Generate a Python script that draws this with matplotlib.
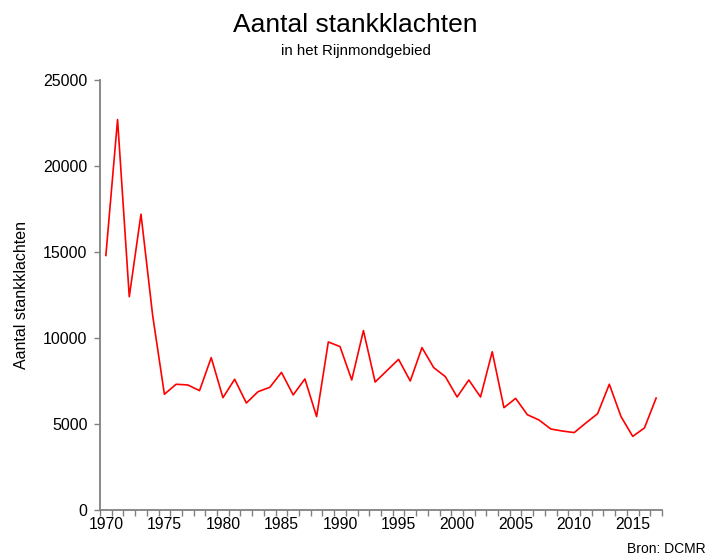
import matplotlib
matplotlib.use("Agg")
import matplotlib.pyplot as plt
import numpy as np

years = list(range(1970, 2018))
klachten = [14800, 22700, 12400, 17200, 11300, 6730, 7310, 7270, 6940, 8860,
            6530, 7600, 6220, 6880, 7130, 8000, 6690, 7620, 5430, 9770,
            9500, 7560, 10430, 7440, 8100, 8760, 7500, 9440, 8280, 7750,
            6570, 7560, 6570, 9200, 5950, 6490, 5540, 5230, 4710, 4590,
            4500, 5060, 5600, 7310, 5430, 4280, 4770, 6510]
xticks = [1970, 1975, 1980, 1985, 1990, 1995, 2000, 2005, 2010, 2015]
yticks = [0, 5000, 10000, 15000, 20000, 25000]

plt.rcParams['font.family'] = ['Liberation Sans', 'DejaVu Sans']

fig = plt.figure(figsize=(7.07, 5.56), dpi=100)
ax = fig.add_axes([100/707, 1-510/556, (662-100)/707, (510-80)/556])
ax.plot(years, klachten, color='#FF0000', lw=1.2)

ax.set_xlim(1969.5, 2017.5)
ax.set_ylim(0, 25000)
ax.set_yticks(yticks)
ax.set_yticklabels([str(v) for v in yticks], fontsize=11.5)
ax.set_xticks(xticks)
ax.set_xticklabels([str(v) for v in xticks], fontsize=11.3)
ax.tick_params(axis='x', which='major', length=0, pad=5)
ax.set_xticks(np.arange(1969.5, 2018, 1.0), minor=True)
ax.tick_params(axis='x', which='minor', length=4, width=1, color='#808080', direction='out')
ax.tick_params(axis='y', length=4, width=1, color='#808080', direction='out', pad=5)

for s in ['top', 'right']:
    ax.spines[s].set_visible(False)
for s in ['left', 'bottom']:
    ax.spines[s].set_color('#808080')
    ax.spines[s].set_linewidth(1.3)

ax.set_ylabel('Aantal stankklachten', fontsize=11.5, labelpad=10)

fig.text(0.503, 1-25/556, 'Aantal stankklachten', fontsize=19, ha='center', va='center')
fig.text(0.503, 1-51/556, 'in het Rijnmondgebied', fontsize=10.8, ha='center', va='center')
fig.text(0.998, 1-549/556, 'Bron: DCMR', fontsize=10, ha='right', va='center')

fig.savefig('out.png', dpi=100)
